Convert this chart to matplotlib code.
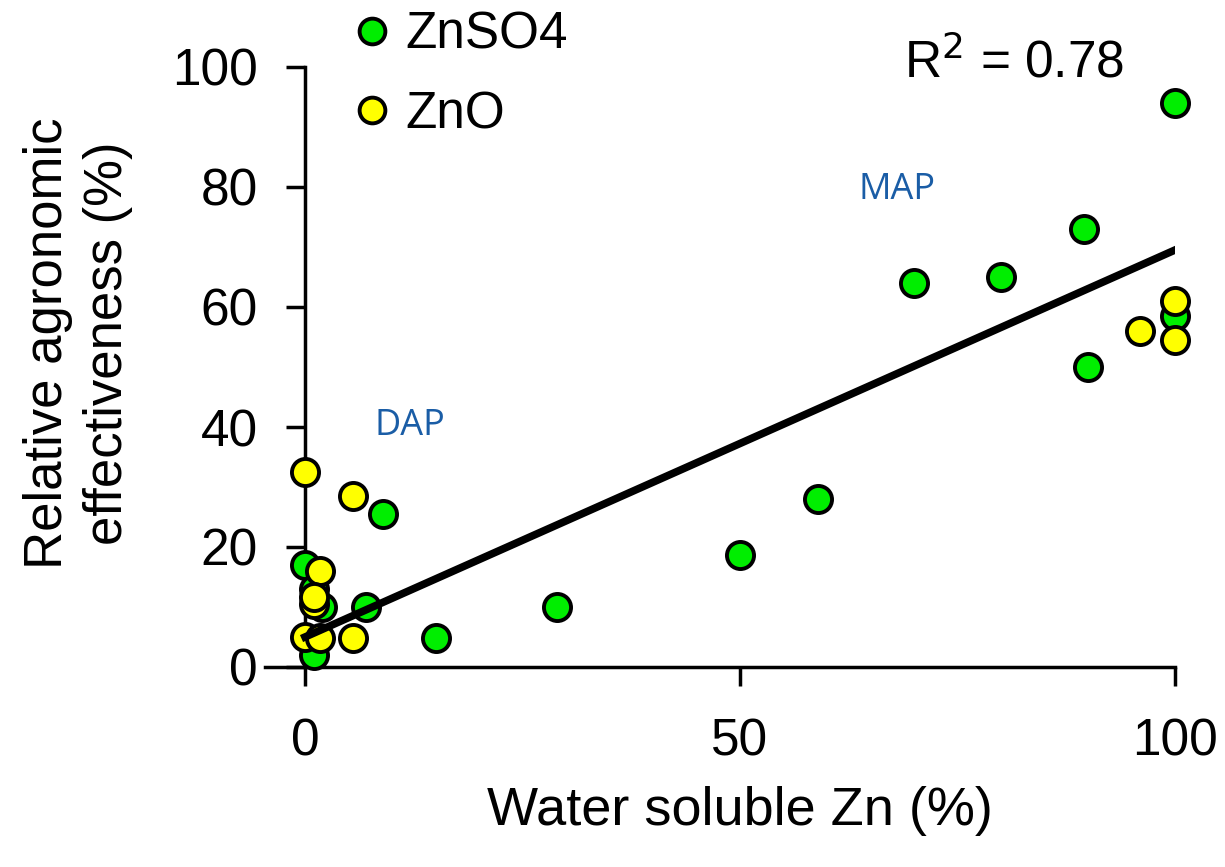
import matplotlib.pyplot as plt
import numpy as np

plt.rcParams['font.family'] = ['Liberation Sans', 'DejaVu Sans']

# ZnSO4 points (water soluble Zn %, RAE %)
znso4_x = [100, 89.5, 80, 70, 100, 90, 59, 50, 29, 15, 9, 7, 0, 1, 2, 1]
znso4_y = [94, 73, 65, 64, 58.5, 50, 28, 18.7, 10, 4.8, 25.5, 10, 17, 13, 10, 2]

# ZnO points
zno_x = [100, 96, 100, 0, 5.5, 1.7, 1, 1, 0, 1.7, 5.5]
zno_y = [61, 56, 54.5, 32.5, 28.5, 16, 10.5, 11.7, 5, 4.8, 4.8]

# fitted line
fit_x = [0, 100]
fit_intercept = 5
fit_slope = 0.645

fig = plt.figure(figsize=(12.25, 8.67), dpi=100)
ax = fig.add_axes([265 / 1225, 1 - 667 / 867, 910 / 1225, 600 / 867])

ms = 19.5
ax.plot(znso4_x, znso4_y, 'o', ms=ms, mfc='#00ee00', mec='black', mew=2.8,
        ls='none', label='ZnSO4', zorder=3, clip_on=False)
ax.plot(zno_x, zno_y, 'o', ms=ms, mfc='#ffff00', mec='black', mew=2.8,
        ls='none', label='ZnO', zorder=3, clip_on=False)

fx = np.array(fit_x)
ax.plot(fx, fit_intercept + fit_slope * fx, color='black', lw=5.5, zorder=4)

ax.set_xlim(-4.6, 100)
ax.set_ylim(0, 100)
ax.set_xticks([0, 50, 100])
ax.set_yticks([0, 20, 40, 60, 80, 100])

ax.spines['left'].set_position(('data', 0))
ax.spines['right'].set_visible(False)
ax.spines['top'].set_visible(False)
for s in ['left', 'bottom']:
    ax.spines[s].set_linewidth(2.5)
ax.tick_params(axis='both', labelsize=37, width=2.5, length=14, direction='out')
ax.tick_params(axis='x', pad=22)
ax.tick_params(axis='y', pad=20)

ax.set_xlabel('Water soluble Zn (%)', fontsize=39)
ax.xaxis.set_label_coords((740 - 265) / 910, -0.198)
fig.text(78 / 1225, 1 - 343 / 867, 'Relative agronomic\neffectiveness (%)',
         fontsize=38, rotation=90, ha='center', va='center', linespacing=1.25)

ax.text(81.5, 100.6, 'R$^2$ = 0.78', fontsize=37, ha='center', va='center')
ax.text(68, 79.5, 'MAP', fontsize=26, color='#1a5da6', family='Open Sans',
        ha='center', va='center')
ax.text(12, 40.2, 'DAP', fontsize=26, color='#1a5da6', family='Open Sans',
        ha='center', va='center')

leg = fig.legend(loc='upper left', bbox_to_anchor=(326 / 1225, 1 + 10 / 867),
                 frameon=False, fontsize=37, markerscale=0.95, handletextpad=0.15,
                 labelspacing=0.6, handlelength=1.0, borderaxespad=0)

fig.savefig('out.png', dpi=100)
